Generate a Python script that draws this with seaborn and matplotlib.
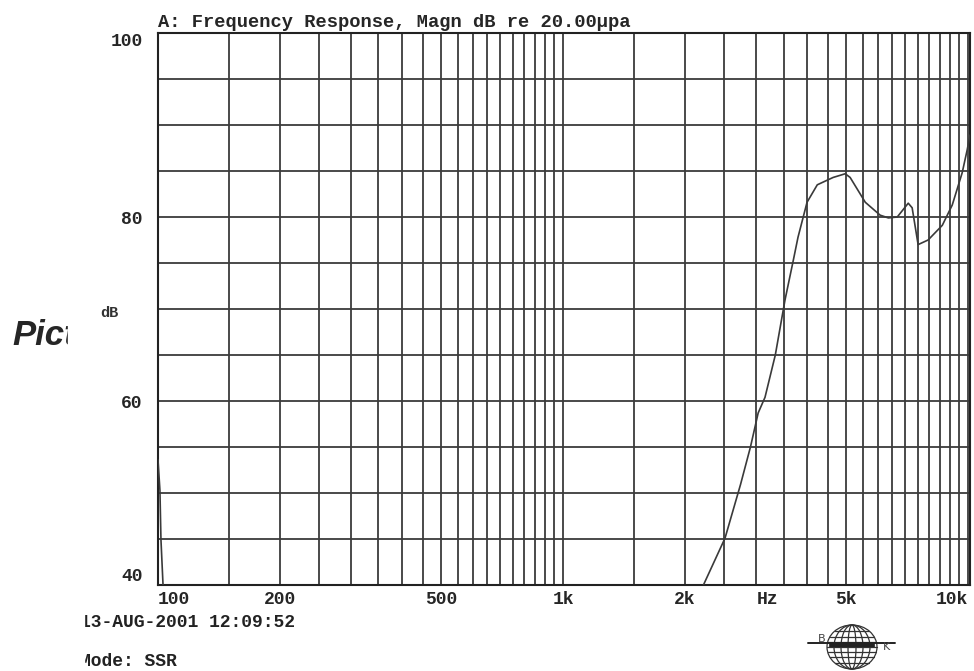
import numpy as np
import pandas as pd
import seaborn as sns
import matplotlib.pyplot as plt
from matplotlib.patches import Rectangle, Ellipse
from matplotlib.ticker import NullFormatter

# spike at the very left edge of the sweep
spike_freq = [100, 101.1, 101.7, 102.9, 103.5]
spike_db = [53.6, 50.3, 44.9, 40.0, 38.5]

# main frequency response
resp_freq = [2170, 2220, 2510, 2740, 2900, 3030, 3150, 3340, 3530, 3700, 3800,
             4000, 4240, 4640, 4970, 5110, 5570, 6060, 6350, 6680, 7110, 7270,
             7520, 7960, 8630, 9130, 9660, 9940, 10100]
resp_db = [39.0, 40.0, 45.1, 50.9, 55.0, 58.7, 60.4, 65.0, 71.0, 75.3, 77.8,
           81.6, 83.5, 84.3, 84.7, 84.3, 81.6, 80.2, 79.9, 80.0, 81.5, 81.0,
           77.0, 77.5, 79.1, 81.3, 84.8, 87.3, 88.9]

x_tick_pos = [100, 200, 500, 1000, 2000, 3200, 5000, 10000]
x_tick_lab = ['100', '200', '500', '1k', '2k', 'Hz', '5k', '10k']
y_tick_pos = [40, 60, 80, 100]
y_tick_lab = ['40', '60', '80', '100']

title = 'A: Frequency Response, Magn dB re 20.00\u00b5pa'
stamp = '13-AUG-2001 12:09:52'
mode = 'Mode: SSR'

df = pd.concat([
    pd.DataFrame({'freq': spike_freq, 'db': spike_db, 'seg': 0}),
    pd.DataFrame({'freq': resp_freq, 'db': resp_db, 'seg': 1}),
])

sns.set_theme(style='white')
plt.rcParams['font.family'] = ['Liberation Mono', 'DejaVu Sans Mono']

fig = plt.figure(figsize=(9.74, 6.71), dpi=100)
ax = fig.add_axes([158 / 974, 1 - 585 / 671, 812 / 974, 552 / 671])

sns.lineplot(data=df, x='freq', y='db', units='seg', estimator=None,
             color='#3a3a3a', linewidth=1.2, ax=ax, zorder=5)

ax.set_xscale('log')
ax.set_xlim(100, 10100)
ax.set_ylim(40, 100)

# grid: 50 Hz steps up to 1k, 500 Hz steps above
grid_x = list(range(100, 1000, 50)) + list(range(1000, 10001, 500))
grid_y = list(range(40, 101, 5))
ax.xaxis.remove_overlapping_locs = False
ax.yaxis.remove_overlapping_locs = False
ax.set_xticks(grid_x, minor=True)
ax.set_yticks(grid_y, minor=True)
ax.xaxis.set_minor_formatter(NullFormatter())
ax.yaxis.set_minor_formatter(NullFormatter())
ax.set_xticks(x_tick_pos, x_tick_lab)
ax.set_yticks(y_tick_pos, y_tick_lab)
ax.grid(False, which='major')
ax.grid(True, which='minor', color='#3c3c3c', linewidth=1.3)
ax.tick_params(which='both', length=0)
ax.tick_params(axis='x', pad=4, labelsize=13)
ax.tick_params(axis='y', pad=11, labelsize=13)
for lab in ax.get_xticklabels() + ax.get_yticklabels():
    lab.set_fontweight('bold')
xl = ax.get_xticklabels()
xl[0].set_ha('left')
xl[-1].set_ha('right')
yl = ax.get_yticklabels()
yl[0].set_va('bottom')
yl[-1].set_va('top')

for s in ax.spines.values():
    s.set_color('#222222')
    s.set_linewidth(1.5)

ax.set_xlabel('')
ax.set_ylabel('')
ax.set_title(title, loc='left', pad=4, fontsize=13.5, fontweight='bold')

fig.text(100 / 974, 1 - 317 / 671, 'dB', fontsize=11, fontweight='bold',
         color='#333333', zorder=12)
fig.text(12 / 974, 1 - 345 / 671, 'Pict', fontsize=25, fontweight='bold',
         fontstyle='italic', family=['Liberation Sans', 'DejaVu Sans'], zorder=3)
fig.text(80 / 974, 1 - 627 / 671, stamp, fontsize=13, fontweight='bold',
         color='#222222')
fig.text(80 / 974, 1 - 666 / 671, mode, fontsize=13, fontweight='bold',
         color='#222222')

# scan edges that cut into the text
fig.add_artist(Rectangle((68 / 974, 1 - 355 / 671), 30 / 974, 50 / 671,
                         transform=fig.transFigure, color='white', zorder=10))
fig.add_artist(Rectangle((0, 0), 84 / 974, 1 - 605 / 671,
                         transform=fig.transFigure, color='white', zorder=10))

# B&K globe logo
lg = fig.add_axes([805 / 974, 0, 95 / 974, 56 / 671])
lg.set_xlim(0, 95)
lg.set_ylim(0, 56)
lg.axis('off')
cx, cy, a, b = 47, 24, 25, 22
for w in [50, 36, 22, 8]:
    lg.add_patch(Ellipse((cx, cy), w, 2 * b, fill=False, color='#333333', lw=0.9))
for dy in [-16, -10, -5, 0, 5, 10, 16]:
    hw = a * np.sqrt(1 - (dy / b) ** 2)
    lg.plot([cx - hw, cx + hw], [cy + dy, cy + dy], color='#333333', lw=0.9)
lg.plot([3, 90], [28, 28], color='#222222', lw=1.4)
for dy in [1, 2.5]:
    lg.plot([cx - 22, cx + 22], [28 - dy, 28 - dy], color='#222222', lw=1.6)
lg.text(13, 29, 'B', fontsize=8, color='#444444', family='DejaVu Sans')
lg.text(78, 21, 'K', fontsize=8, color='#444444', family='DejaVu Sans')

fig.savefig('out.png', dpi=100)
